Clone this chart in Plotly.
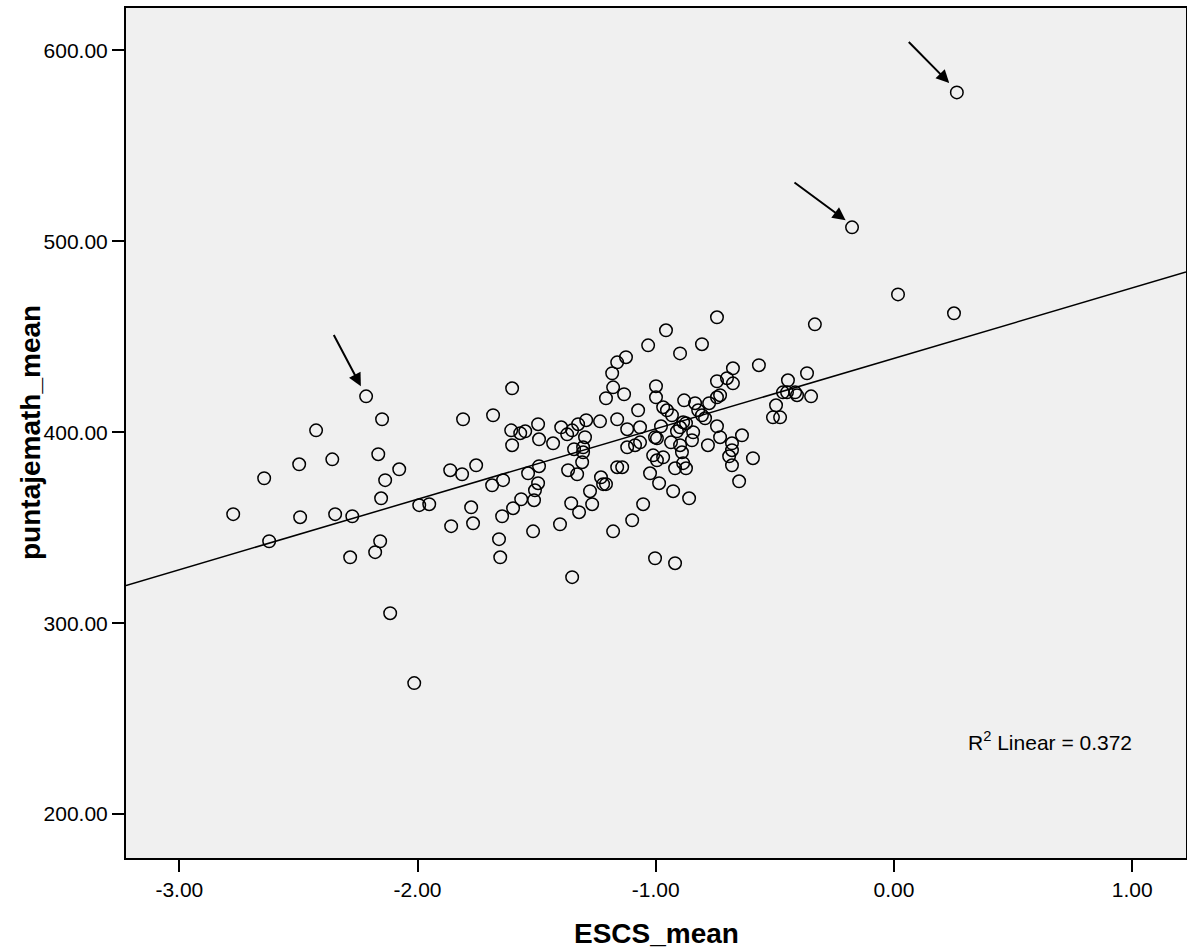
import plotly.graph_objects as go

# ---- data ----
escs_mean = [
    -2.216, -2.149, -2.426, -2.165, -2.497, -2.358, -2.077, -2.644, -2.136, -2.153,
    -1.993, -1.951, -2.774, -2.493, -2.346, -2.274, -2.623, -2.157, -2.178, -2.283,
    -2.115, -2.014,
    -1.603, -1.809, -1.683, -1.607, -1.569, -1.548, -1.494, -1.490, -1.603, -1.431,
    -1.397, -1.372, -1.351, -1.326, -1.292, -1.234, -1.297, -1.343, -1.305, -1.305,
    -1.309, -1.368, -1.330, -1.490, -1.536, -1.494, -1.507, -1.511, -1.565, -1.599,
    -1.645, -1.641, -1.687, -1.754, -1.813, -1.863, -1.775, -1.767, -1.859, -1.658,
    -1.653, -1.515, -1.402, -1.355, -1.322, -1.276, -1.267, -1.230, -1.221, -1.209,
    -1.351, -1.179, -1.162, -1.162,
    -0.743, -0.957, -1.032, -0.806, -0.898, -1.125, -1.183, -1.179, -1.209, -1.133,
    -0.999, -0.999, -0.676, -0.701, -0.676, -0.743, -0.730, -0.743, -0.881, -0.835,
    -0.776, -0.969, -0.953, -1.074, -0.822, -0.932, -0.806, -0.793, -1.162, -0.885,
    -0.873, -0.898, -0.978, -0.743, -1.120, -1.066, -0.911, -0.843, -0.638, -0.730,
    -1.003, -0.995, -0.848, -0.936, -0.781, -0.680, -1.066, -1.087, -1.120, -0.898,
    -0.890, -0.680, -0.692, -1.011, -0.969, -0.995, -0.592, -0.885, -0.873, -0.919,
    -0.680, -1.141, -1.024, -0.986, -0.927, -0.650, -0.860, -1.053, -1.099, -1.003,
    -0.919,
    -0.332, 0.252, 0.017, -0.567, -0.365, -0.445, -0.466, -0.449, -0.415, -0.407,
    -0.348, -0.495, -0.508, -0.478,
    0.264, -0.176,
]
puntajemath_mean = [
    418.8, 406.8, 401.0, 388.5, 383.2, 385.8, 380.6, 375.9, 374.9, 365.4,
    361.8, 362.3, 357.1, 355.5, 357.1, 356.0, 342.9, 342.9, 337.2, 334.5,
    305.2, 268.6,
    423.0, 406.8, 408.9, 401.0, 399.5, 400.5, 404.2, 396.3, 393.2, 394.2,
    402.6, 398.9, 401.0, 404.2, 406.3, 405.7, 397.4, 391.1, 392.1, 389.5,
    384.3, 380.1, 378.0, 382.2, 378.5, 373.3, 369.6, 364.4, 364.9, 360.2,
    356.0, 374.9, 372.2, 382.7, 378.0, 380.1, 360.7, 352.3, 350.8, 344.0,
    334.5, 348.1, 351.8, 362.8, 358.1, 369.1, 362.3, 376.4, 372.8, 372.8,
    324.1, 348.1, 381.7, 436.6,
    460.2, 453.4, 445.5, 446.1, 441.3, 439.3, 430.9, 423.5, 417.8, 419.9,
    424.1, 418.3, 433.5, 428.3, 425.6, 426.7, 419.4, 418.3, 416.7, 415.2,
    415.2, 413.1, 411.5, 411.5, 411.5, 408.9, 408.9, 407.3, 406.8, 405.2,
    404.7, 402.6, 403.1, 403.1, 401.6, 402.6, 400.5, 400.0, 398.4, 397.4,
    397.4, 396.8, 395.8, 394.7, 393.2, 394.2, 394.7, 393.2, 392.1, 393.2,
    389.5, 390.6, 387.4, 387.9, 386.9, 385.3, 386.4, 383.8, 381.1, 381.1,
    382.7, 381.7, 378.5, 373.3, 369.1, 374.3, 365.4, 362.3, 353.9, 334.0,
    331.4,
    456.5, 462.3, 472.2, 435.1, 430.9, 427.2, 420.9, 420.9, 420.9, 419.4,
    418.8, 414.1, 407.8, 407.8,
    578.0, 507.3,
]

# linear fit (as drawn in the reference) and its R^2
fit_intercept = 438.7
fit_slope = 36.9
r2_linear = 0.372

x_range = [-3.224, 1.226]
y_range = [177.0, 622.2]
x_ticks = [-3, -2, -1, 0, 1]
x_tick_labels = ["-3.00", "-2.00", "-1.00", "0.00", "1.00"]
y_ticks = [200, 300, 400, 500, 600]
y_tick_labels = ["200.00", "300.00", "400.00", "500.00", "600.00"]

# arrows: (tail_x, tail_y, head_x, head_y) pointing at highlighted schools
arrow_tail_x = [-2.355, -0.424, 0.056]
arrow_tail_y = [451.7, 531.4, 605.2]
arrow_head_x = [-2.238, -0.203, 0.232]
arrow_head_y = [424.1, 511.0, 582.9]

FONT = "Liberation Sans, Arial, sans-serif"

fig = go.Figure()

fig.add_trace(go.Scatter(
    x=escs_mean, y=puntajemath_mean, mode="markers",
    marker=dict(symbol="circle-open", size=12.5, color="black",
                line=dict(width=1.5, color="black")),
    showlegend=False, hoverinfo="x+y",
))

line_x = list(x_range)
line_y = [fit_intercept + fit_slope * v for v in line_x]
fig.add_trace(go.Scatter(
    x=line_x, y=line_y, mode="lines",
    line=dict(color="black", width=1.5),
    showlegend=False, hoverinfo="skip",
))

annotations = []
for tx, ty, hx, hy in zip(arrow_tail_x, arrow_tail_y, arrow_head_x, arrow_head_y):
    annotations.append(dict(
        x=hx, y=hy, ax=tx, ay=ty, xref="x", yref="y", axref="x", ayref="y",
        text="", showarrow=True, arrowhead=2, arrowsize=1.3, arrowwidth=2,
        arrowcolor="black", standoff=0,
    ))

annotations.append(dict(
    x=0.302, y=238.2, xref="x", yref="y", xanchor="left", yanchor="middle",
    text="R<sup>2</sup> Linear = %.3f" % r2_linear, showarrow=False,
    font=dict(family=FONT, size=21, color="black"),
))
annotations.append(dict(
    x=0.5, y=0, xref="paper", yref="paper", xanchor="center", yanchor="middle",
    yshift=-75, text="<b>ESCS_mean</b>", showarrow=False,
    font=dict(family=FONT, size=28, color="black"),
))
annotations.append(dict(
    x=0, y=0.5, xref="paper", yref="paper", xanchor="center", yanchor="middle",
    xshift=-96, textangle=-90, text="<b>puntajemath_mean</b>", showarrow=False,
    font=dict(family=FONT, size=28, color="black"),
))

axis_common = dict(
    showline=True, linecolor="black", linewidth=2, mirror=True,
    ticks="outside", ticklen=12, tickwidth=2, tickcolor="black",
    showgrid=False, zeroline=False, automargin=False,
    tickfont=dict(family=FONT, size=21, color="black"),
)

fig.update_layout(
    width=1187, height=952,
    margin=dict(l=126, r=1, t=8, b=94, autoexpand=False),
    paper_bgcolor="white", plot_bgcolor="#f0f0f0",
    xaxis=dict(range=x_range, tickmode="array", tickvals=x_ticks,
               ticktext=x_tick_labels, **axis_common),
    yaxis=dict(range=y_range, tickmode="array", tickvals=y_ticks,
               ticktext=y_tick_labels, **axis_common),
    annotations=annotations,
    font=dict(family=FONT, color="black"),
)

fig.write_html(
    "out.html",
    config={"displayModeBar": False},
    post_script="document.body.style.margin='0';document.body.style.overflow='hidden';",
)
